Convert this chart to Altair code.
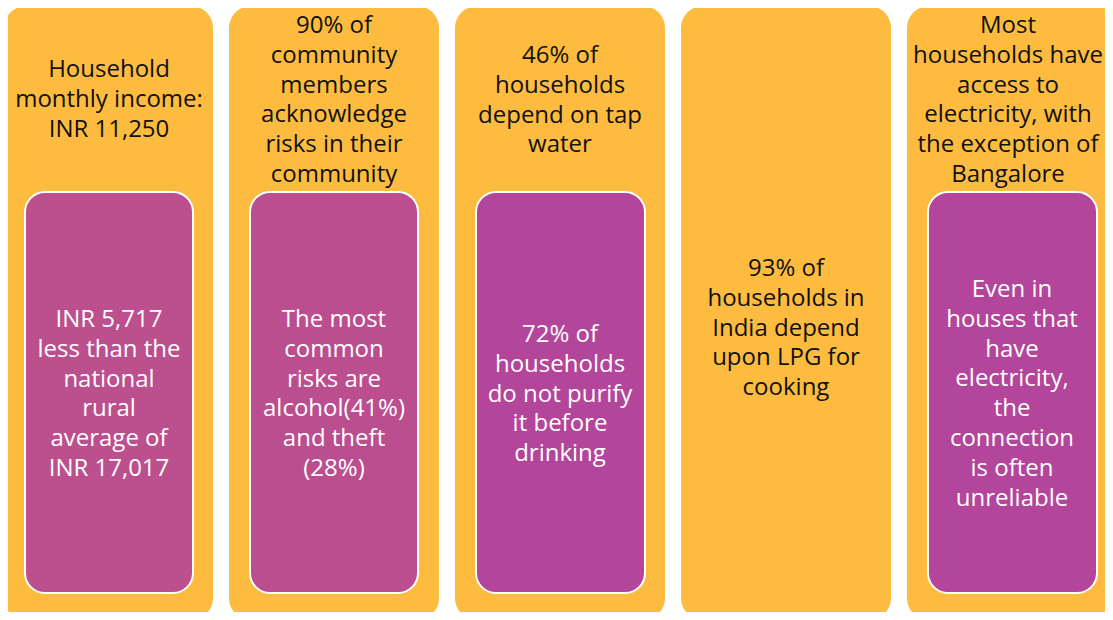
import altair as alt
import pandas as pd

# Outer cards (screen-pixel coordinates)
card_x1 = [4, 229, 455, 681, 907]
card_x2 = [213, 439, 665, 891, 1117]
card_y1 = [6, 6, 6, 6, 6]
card_y2 = [620, 620, 620, 620, 620]

# Inner purple panels (card 4 has none)
panel_x1 = [25, 250, 476, 928]
panel_x2 = [193, 418, 645, 1097]
panel_y1 = [192, 192, 192, 192]
panel_y2 = [593, 593, 593, 593]
panel_color = ["#BC4F8E", "#BA4E8F", "#B3459A", "#B3459A"]

headings = [
    "Household\nmonthly income:\nINR 11,250",
    "90% of\ncommunity\nmembers\nacknowledge\nrisks in their\ncommunity",
    "46% of\nhouseholds\ndepend on tap\nwater",
    "93% of\nhouseholds in\nIndia depend\nupon LPG for\ncooking",
    "Most\nhouseholds have\naccess to\nelectricity, with\nthe exception of\nBangalore",
]
heading_x = [109, 334, 560, 786, 1008]
heading_y = [70, 26, 56, 269, 26]  # first line centre

details = [
    "INR 5,717\nless than the\nnational\nrural\naverage of\nINR 17,017",
    "The most\ncommon\nrisks are\nalcohol(41%)\nand theft\n(28%)",
    "72% of\nhouseholds\ndo not purify\nit before\ndrinking",
    "Even in\nhouses that\nhave\nelectricity,\nthe\nconnection\nis often\nunreliable",
]
detail_x = [109, 334, 560, 1012]
detail_y = [320, 320, 335, 290]  # first line centre

cards = pd.DataFrame({"x1": card_x1, "x2": card_x2, "y1": card_y1, "y2": card_y2})
panels = pd.DataFrame({"x1": panel_x1, "x2": panel_x2, "y1": panel_y1,
                       "y2": panel_y2, "c": panel_color})
heads = pd.DataFrame({"x": heading_x, "y": heading_y, "t": headings})
dets = pd.DataFrame({"x": detail_x, "y": detail_y, "t": details})

W, H = 1097, 604
xs = alt.Scale(domain=[8, 8 + W], nice=False, zero=False)
ys = alt.Scale(domain=[8 + H, 8], nice=False, zero=False)
X = lambda f: alt.X(f, type="quantitative", scale=xs, axis=None)
Y = lambda f: alt.Y(f, type="quantitative", scale=ys, axis=None)

card_layer = alt.Chart(cards).mark_rect(
    color="#FDBC3F", cornerRadius=22
).encode(x=X("x1"), x2="x2", y=Y("y1"), y2="y2")

panel_layer = alt.Chart(panels).mark_rect(
    cornerRadius=20, stroke="white", strokeWidth=2
).encode(x=X("x1"), x2="x2", y=Y("y1"), y2="y2",
         color=alt.Color("c:N", scale=None))

head_layer = alt.Chart(heads).mark_text(
    font="Open Sans", fontSize=24, color="#111111", lineBreak="\n",
    lineHeight=29.8, align="center", baseline="middle"
).encode(x=X("x"), y=Y("y"), text="t:N")

det_layer = alt.Chart(dets).mark_text(
    font="Open Sans", fontSize=24, color="white", lineBreak="\n",
    lineHeight=29.8, align="center", baseline="middle"
).encode(x=X("x"), y=Y("y"), text="t:N")

chart = alt.layer(card_layer, panel_layer, head_layer, det_layer).properties(
    width=W, height=H, padding=0, autosize=alt.AutoSizeParams(type="none"),
    background="white"
).configure_view(stroke=None)

chart.save("out.html", embed_options={"renderer": "svg", "actions": False})
